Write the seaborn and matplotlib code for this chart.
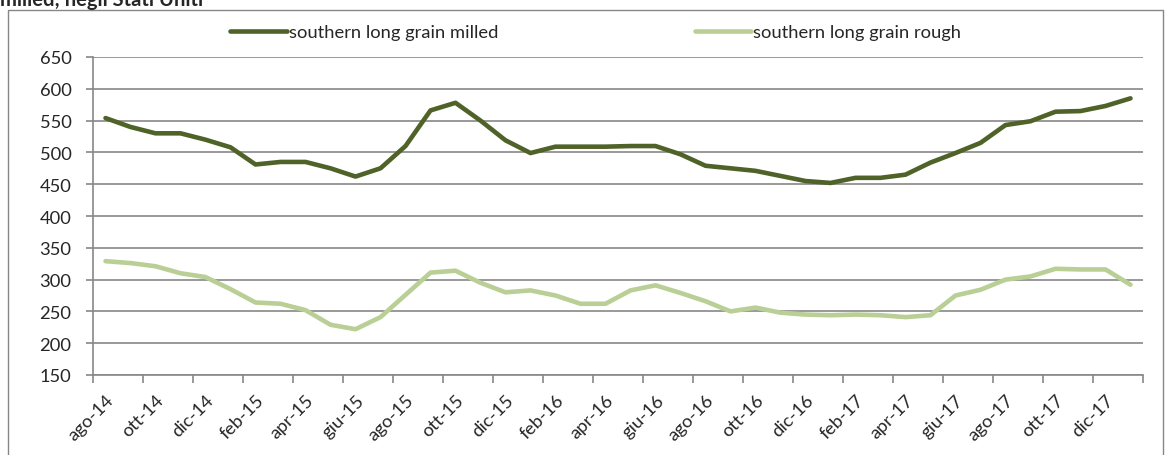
import matplotlib
matplotlib.use("Agg")
import matplotlib.pyplot as plt
from matplotlib.patches import Rectangle
import seaborn as sns
import pandas as pd
import numpy as np

months = ['ago-14','set-14','ott-14','nov-14','dic-14','gen-15','feb-15','mar-15','apr-15','mag-15',
          'giu-15','lug-15','ago-15','set-15','ott-15','nov-15','dic-15','gen-16','feb-16','mar-16',
          'apr-16','mag-16','giu-16','lug-16','ago-16','set-16','ott-16','nov-16','dic-16','gen-17',
          'feb-17','mar-17','apr-17','mag-17','giu-17','lug-17','ago-17','set-17','ott-17','nov-17',
          'dic-17','gen-18']
milled = [554,540,530,530,520,508,481,485,485,475,
          462,475,510,566,578,550,519,499,509,509,
          509,510,510,497,479,475,471,463,455,452,
          460,460,465,484,499,515,543,549,564,565,
          573,585]
rough = [329,326,321,310,304,285,264,262,252,229,
         222,241,276,311,314,295,280,283,275,262,
         262,283,291,279,266,250,256,248,245,244,
         245,244,241,244,275,284,300,305,317,316,
         316,292]
series_names = ['southern long grain milled', 'southern long grain rough']
colors = ['#4F6228', '#B9CF96']
title = 'milled; negli Stati Uniti'

sns.set_theme(style='white')
plt.rcParams['font.family'] = ['Lato', 'DejaVu Sans']

FS = 13.2

df = pd.DataFrame({
    'idx': list(range(len(months))) * 2,
    'value': milled + rough,
    'series': [series_names[0]] * len(months) + [series_names[1]] * len(months),
})

fig = plt.figure(figsize=(11.66, 4.56), dpi=100)
ax = fig.add_axes([93/1166, 1-376/456, (1143-93)/1166, (376-58)/456])

sns.lineplot(data=df, x='idx', y='value', hue='series', palette=colors, ax=ax,
             linewidth=3.3, legend=True, sort=False)
for ln in ax.get_lines():
    ln.set_solid_capstyle('round')
    ln.set_solid_joinstyle('round')

handles, labels = ax.get_legend_handles_labels()
ax.get_legend().remove()
for h in handles:
    h.set_linewidth(3.3)
    h.set_solid_capstyle('round')
fig.legend(handles, labels, loc='center', bbox_to_anchor=(0.511, 1-33/456), ncol=2,
           frameon=False, fontsize=FS, handlelength=3.1, handletextpad=0.1,
           columnspacing=10.7)

ax.set_xlim(-0.5, len(months) - 0.5)
ax.set_ylim(150, 650)
ax.set_yticks(np.arange(150, 651, 50))
ax.tick_params(axis='y', labelsize=FS, length=5, color='#878787', width=1.2, pad=10.5, left=True)
ax.yaxis.grid(True, color='#878787', linewidth=1.2)
ax.xaxis.grid(False)

label_pos = list(range(0, len(months) - 1, 2))
ax.set_xticks(label_pos)
ax.set_xticklabels([months[i] for i in label_pos], rotation=45, ha='right',
                   rotation_mode='anchor', fontsize=FS)
ax.tick_params(axis='x', length=0, pad=12)
ax.set_xticks(np.arange(-0.5, len(months), 2), minor=True)
ax.tick_params(axis='x', which='minor', length=6, color='#878787', width=1.2, bottom=True)
ax.set_xlabel('')
ax.set_ylabel('')

for s in ['top', 'right']:
    ax.spines[s].set_visible(False)
for s in ['left', 'bottom']:
    ax.spines[s].set_color('#878787')
    ax.spines[s].set_linewidth(1.2)

fig.add_artist(Rectangle((8/1166, -0.05), 1155/1166, 1 - 11/456 + 0.05,
                         transform=fig.transFigure, fill=False, edgecolor='#878787', linewidth=1))
fig.text(0.0, 1 - 6/456, title, ha='left', va='baseline', fontsize=14.5, fontweight='bold')

fig.savefig('out.png', dpi=100)
